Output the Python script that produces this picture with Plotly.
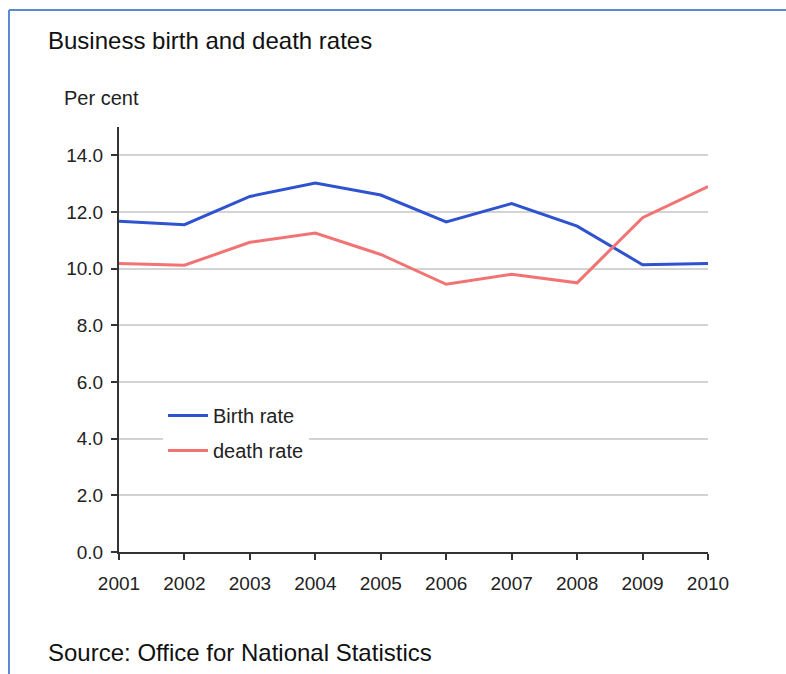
import plotly.graph_objects as go

years = [2001, 2002, 2003, 2004, 2005, 2006, 2007, 2008, 2009, 2010]
birth_rate = [11.67, 11.55, 12.55, 13.02, 12.6, 11.65, 12.3, 11.5, 10.14, 10.18]
death_rate = [10.18, 10.12, 10.93, 11.26, 10.5, 9.45, 9.8, 9.5, 11.8, 12.9]
y_ticks = [0, 2, 4, 6, 8, 10, 12, 14]
y_tick_labels = ["0.0", "2.0", "4.0", "6.0", "8.0", "10.0", "12.0", "14.0"]

W, H = 786, 674
L, R, T, B = 119, 78, 127, 122
PW, PH = W - L - R, H - T - B


def px_x(px):
    return (px - L) / PW


def px_y(py):
    return (H - B - py) / PH


fig = go.Figure()
fig.add_trace(go.Scatter(x=years, y=birth_rate, mode="lines", name="Birth rate",
                         legendgroup="b",
                         line=dict(color="#2F52CF", width=3)))
fig.add_trace(go.Scatter(x=years, y=death_rate, mode="lines", name="death rate",
                         legendgroup="d",
                         line=dict(color="#F27373", width=3)))

tick_font = dict(family="Liberation Sans, Arial, sans-serif", size=19, color="#222222")

fig.update_layout(
    width=W, height=H,
    margin=dict(l=L, r=R, t=T, b=B, pad=0),
    paper_bgcolor="white", plot_bgcolor="white",
    showlegend=True,
    legend=dict(x=px_x(163), y=px_y(396), xanchor="left", yanchor="top",
                bgcolor="white", borderwidth=0, tracegroupgap=6, itemwidth=40,
                font=dict(family="Liberation Sans, Arial, sans-serif", size=20, color="#222222")),
    xaxis=dict(range=[2001, 2010], tickmode="array", tickvals=years,
               ticktext=[str(y) for y in years], showgrid=False,
               showline=True, linecolor="#333333", linewidth=2,
               ticks="outside", ticklen=6, tickwidth=2, tickcolor="#333333",
               ticklabelstandoff=7,
               tickfont=tick_font, zeroline=False, fixedrange=True),
    yaxis=dict(range=[0, 15], tickmode="array", tickvals=y_ticks,
               ticktext=y_tick_labels, showgrid=True, gridcolor="#D3D3D3", gridwidth=1.5,
               showline=True, linecolor="#333333", linewidth=2,
               ticks="outside", ticklen=6, tickwidth=2, tickcolor="#333333",
               ticklabelstandoff=4,
               tickfont=tick_font, zeroline=False, fixedrange=True),
    annotations=[
        dict(text="Business birth and death rates", x=px_x(46), y=px_y(40),
             xref="paper", yref="paper", xanchor="left", yanchor="middle",
             showarrow=False,
             font=dict(family="Liberation Sans, Arial, sans-serif", size=24, color="#111111")),
        dict(text="Per cent", x=px_x(62), y=px_y(98),
             xref="paper", yref="paper", xanchor="left", yanchor="middle",
             showarrow=False,
             font=dict(family="Liberation Sans, Arial, sans-serif", size=20, color="#222222")),
        dict(text="Source: Office for National Statistics", x=px_x(46), y=px_y(652),
             xref="paper", yref="paper", xanchor="left", yanchor="middle",
             showarrow=False,
             font=dict(family="Liberation Sans, Arial, sans-serif", size=24, color="#111111")),
    ],
    shapes=[
        dict(type="line", xref="paper", yref="paper",
             x0=px_x(9), x1=px_x(786), y0=px_y(10), y1=px_y(10),
             line=dict(color="#5B8AD2", width=2)),
        dict(type="line", xref="paper", yref="paper",
             x0=px_x(9), x1=px_x(9), y0=px_y(10), y1=px_y(674),
             line=dict(color="#5B8AD2", width=2)),
    ],
)

fig.write_html("out.html")
